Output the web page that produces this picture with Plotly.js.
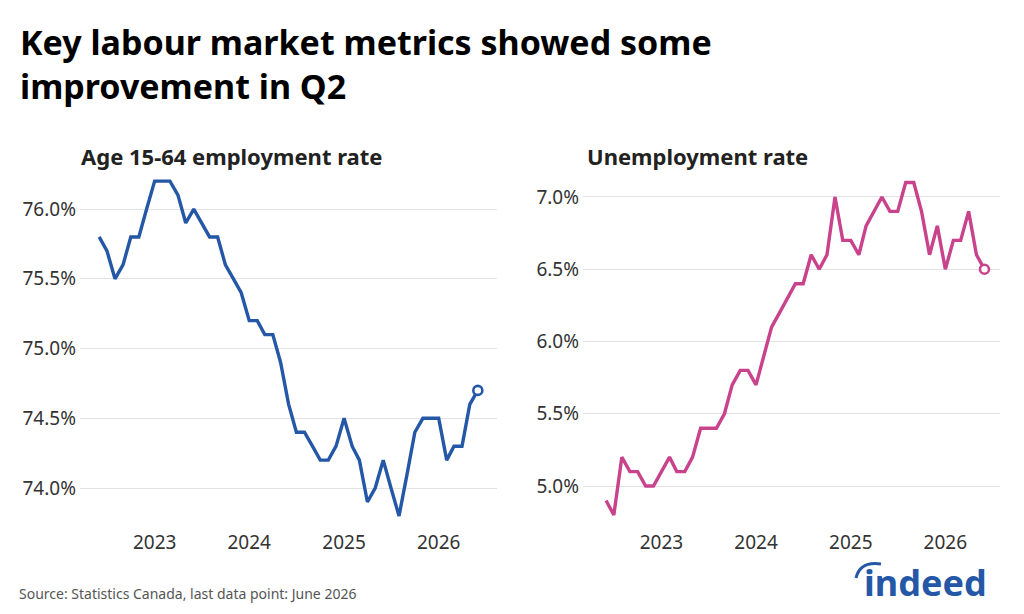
<!DOCTYPE html>
<html>
<head>
<meta charset="utf-8">
<script src="https://cdn.plot.ly/plotly-3.0.1.min.js"></script>
<style>
html,body{margin:0;padding:0;background:#fff;}
#chart{width:1024px;height:614px;}
</style>
</head>
<body>
<div id="chart"></div>
<script>
const months = [
  "2022-06","2022-07","2022-08","2022-09","2022-10","2022-11","2022-12",
  "2023-01","2023-02","2023-03","2023-04","2023-05","2023-06","2023-07","2023-08","2023-09","2023-10","2023-11","2023-12",
  "2024-01","2024-02","2024-03","2024-04","2024-05","2024-06","2024-07","2024-08","2024-09","2024-10","2024-11","2024-12",
  "2025-01","2025-02","2025-03","2025-04","2025-05","2025-06","2025-07","2025-08","2025-09","2025-10","2025-11","2025-12",
  "2026-01","2026-02","2026-03","2026-04","2026-05","2026-06"
];
const employmentRate = [
  75.8,75.7,75.5,75.6,75.8,75.8,76.0,
  76.2,76.2,76.2,76.1,75.9,76.0,75.9,75.8,75.8,75.6,75.5,75.4,
  75.2,75.2,75.1,75.1,74.9,74.6,74.4,74.4,74.3,74.2,74.2,74.3,
  74.5,74.3,74.2,73.9,74.0,74.2,74.0,73.8,74.1,74.4,74.5,74.5,
  74.5,74.2,74.3,74.3,74.6,74.7
];
const unemploymentRate = [
  4.9,4.8,5.2,5.1,5.1,5.0,5.0,
  5.1,5.2,5.1,5.1,5.2,5.4,5.4,5.4,5.5,5.7,5.8,5.8,
  5.7,5.9,6.1,6.2,6.3,6.4,6.4,6.6,6.5,6.6,7.0,6.7,
  6.7,6.6,6.8,6.9,7.0,6.9,6.9,7.1,7.1,6.9,6.6,6.8,
  6.5,6.7,6.7,6.9,6.6,6.5
];
const yearTicks = ["2023-01-01","2024-01-01","2025-01-01","2026-01-01"];
const yearLabels = ["2023","2024","2025","2026"];

const blue = "#2557a7";
const pink = "#c9428c";
const W = 1024, H = 614;
const px = v => v / W;
const py = v => 1 - v / H;
const FONT = "Noto Sans";

const last = a => a[a.length - 1];

const traces = [
  {x: months, y: employmentRate, type: "scatter", mode: "lines",
   line: {color: blue, width: 3.4}, xaxis: "x", yaxis: "y", hoverinfo: "skip"},
  {x: [last(months)], y: [last(employmentRate)], type: "scatter", mode: "markers",
   marker: {color: "#fff", size: 9, line: {color: blue, width: 2.6}}, xaxis: "x", yaxis: "y"},
  {x: months, y: unemploymentRate, type: "scatter", mode: "lines",
   line: {color: pink, width: 3.4}, xaxis: "x2", yaxis: "y2", hoverinfo: "skip"},
  {x: [last(months)], y: [last(unemploymentRate)], type: "scatter", mode: "markers",
   marker: {color: "#fff", size: 9, line: {color: pink, width: 2.6}}, xaxis: "x2", yaxis: "y2"}
];

const xCommon = {
  type: "date", showgrid: false, zeroline: false, showline: false, ticks: "",
  tickvals: yearTicks, ticktext: yearLabels,
  tickfont: {family: FONT, size: 19, color: "#333"},
  ticklabelstandoff: 9, automargin: false, fixedrange: true
};
const yCommon = {
  showgrid: true, gridcolor: "#e2e2e2", gridwidth: 1, zeroline: false, showline: false, ticks: "",
  dtick: 0.5, tickformat: ".1f", ticksuffix: "%",
  tickfont: {family: FONT, size: 19, color: "#333"},
  ticklabelstandoff: 3, automargin: false, fixedrange: true
};

const layout = {
  width: W, height: H,
  margin: {l: 0, r: 0, t: 0, b: 0},
  paper_bgcolor: "#fff", plot_bgcolor: "#fff",
  showlegend: false,
  font: {family: FONT, color: "#222"},
  xaxis: Object.assign({}, xCommon, {domain: [px(80), px(497)], range: ["2022-03-19", "2026-08-14"], anchor: "y"}),
  yaxis: Object.assign({}, yCommon, {domain: [py(520), py(175)], range: [73.771, 76.244], anchor: "x"}),
  xaxis2: Object.assign({}, xCommon, {domain: [px(583), px(1000)], range: ["2022-03-04", "2026-07-31"], anchor: "y2"}),
  yaxis2: Object.assign({}, yCommon, {domain: [py(520), py(175)], range: [4.765, 7.152], anchor: "x2"}),
  annotations: [
    {text: "<b>Key labour market metrics showed some<br>improvement in Q2</b>", xref: "paper", yref: "paper",
     x: px(18), y: py(17), xanchor: "left", yanchor: "top", align: "left", showarrow: false,
     font: {family: FONT, size: 34, color: "#000"}},
    {text: "<b>Age 15-64 employment rate</b>", xref: "paper", yref: "paper",
     x: px(79), y: py(156), xanchor: "left", yanchor: "middle", showarrow: false,
     font: {family: FONT, size: 22, color: "#222"}},
    {text: "<b>Unemployment rate</b>", xref: "paper", yref: "paper",
     x: px(585), y: py(156), xanchor: "left", yanchor: "middle", showarrow: false,
     font: {family: FONT, size: 22, color: "#222"}},
    {text: "Source: Statistics Canada, last data point: June 2026", xref: "paper", yref: "paper",
     x: px(17), y: py(593), xanchor: "left", yanchor: "middle", showarrow: false,
     font: {family: FONT, size: 14, color: "#555"}},
    {text: "<b>indeed</b>", xref: "paper", yref: "paper",
     x: px(989), y: py(582), xanchor: "right", yanchor: "middle", showarrow: false,
     font: {family: FONT, size: 36, color: blue}}
  ],
  shapes: [
    {type: "path", xref: "paper", yref: "paper",
     path: `M ${px(856)} ${py(578)} Q ${px(860)} ${py(561)} ${px(881)} ${py(564)}`,
     line: {color: blue, width: 3}}
  ]
};

Plotly.newPlot("chart", traces, layout, {displayModeBar: false, staticPlot: true});
</script>
</body>
</html>
